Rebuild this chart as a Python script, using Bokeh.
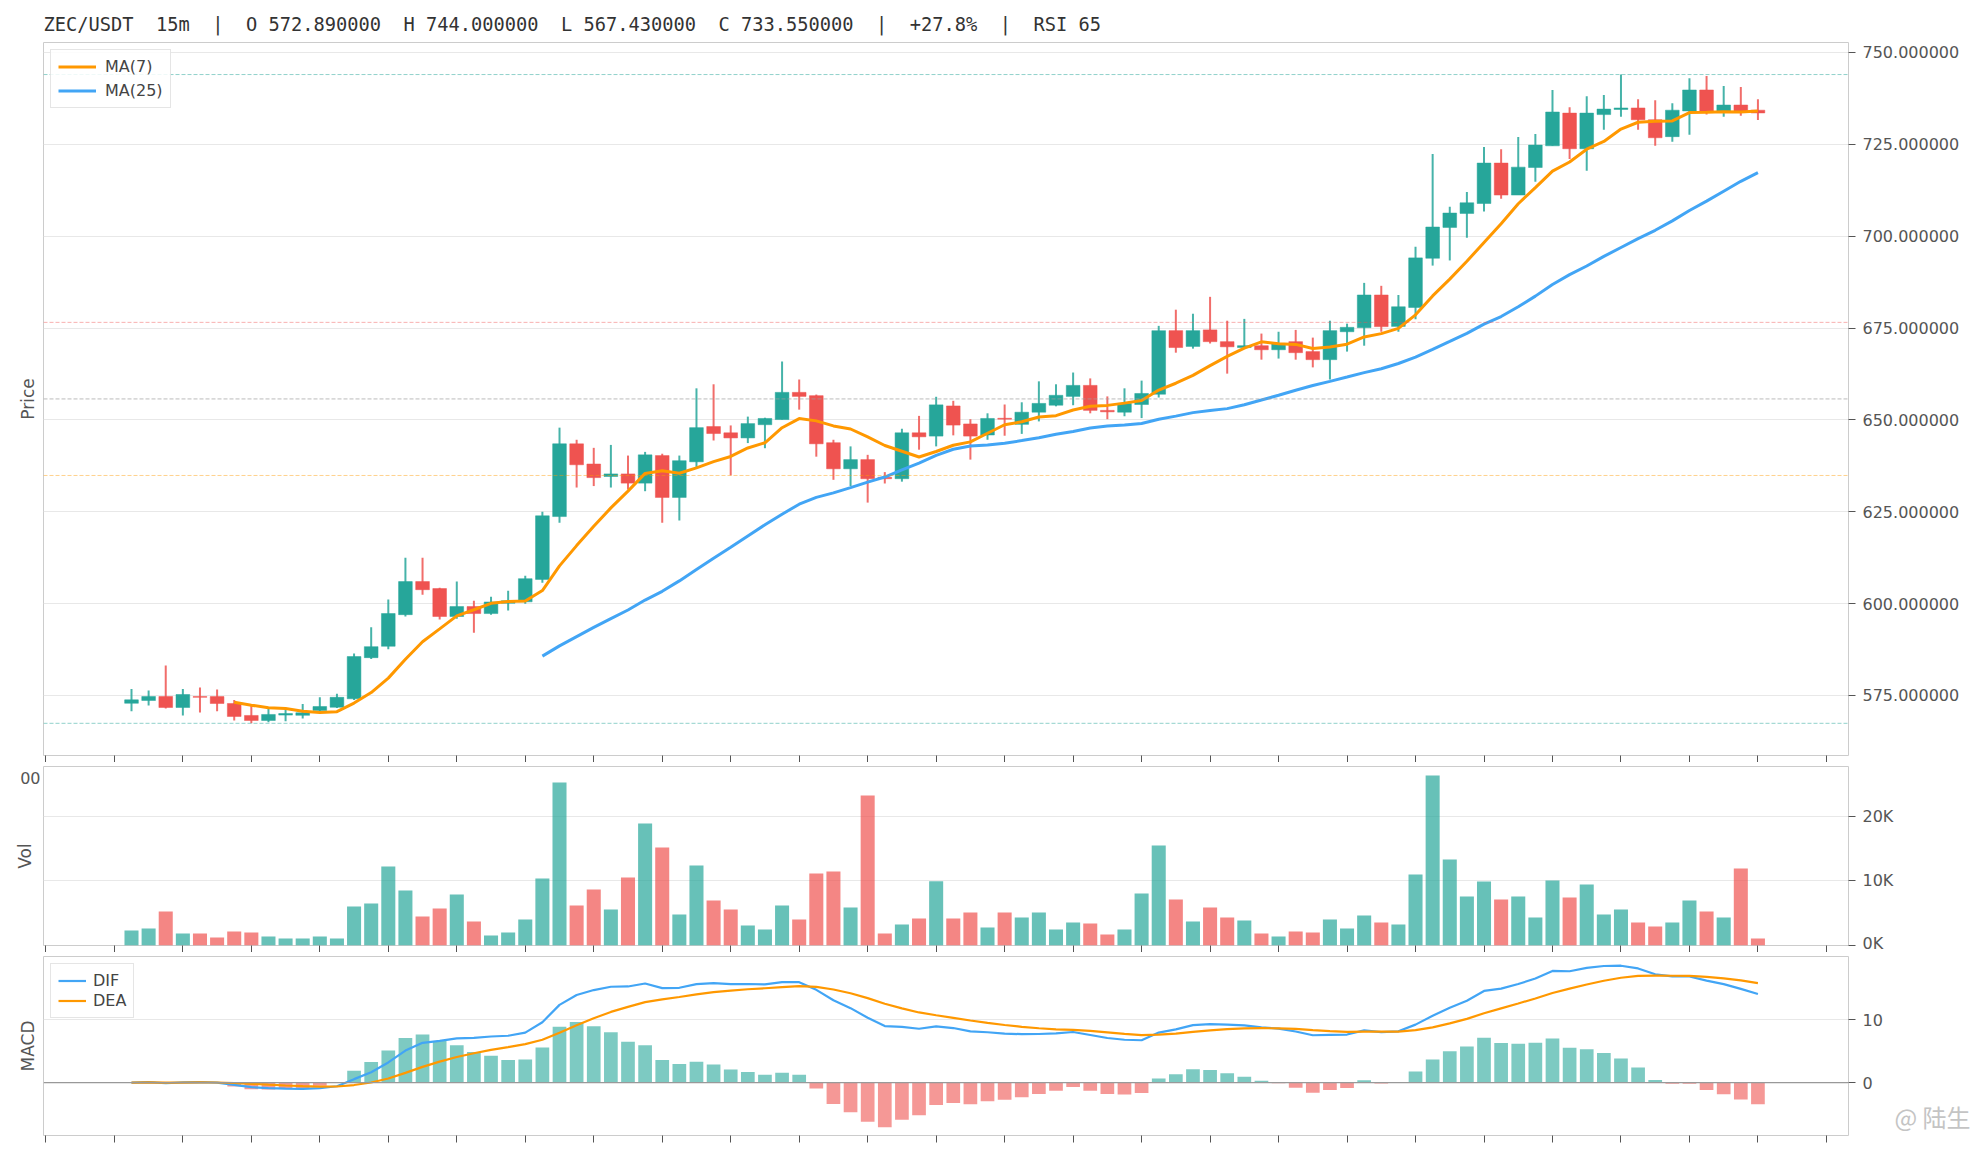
import numpy as np
import pandas as pd
from bokeh.plotting import figure
from bokeh.layouts import column
from bokeh.models import (ColumnDataSource, Range1d, LinearAxis, FixedTicker,
                          PrintfTickFormatter, Span)
from bokeh.embed import file_html
from bokeh.resources import INLINE

# ---------------- data ----------------
title_text = ("ZEC/USDT\u00a0 15m\u00a0 |\u00a0 O 572.890000\u00a0 H 744.000000\u00a0 "
              "L 567.430000\u00a0 C 733.550000\u00a0 |\u00a0 +27.8%\u00a0 |\u00a0 RSI 65")
watermark_text = "@ 陆生"
clipped_time_label = "00"

opens = [572.89, 573.64, 574.73, 571.74, 574.7, 574.7, 572.83, 569.57, 568.2, 569.66,
         569.6, 570.9, 571.8, 574.1, 585.3, 588.4, 597.0, 606.0, 604.1, 596.5,
         599.2, 597.3, 600.1, 600.5, 606.6,
         623.7, 643.5, 638.0, 634.6, 635.3, 632.8, 640.3, 628.9, 638.6, 648.2,
         646.5, 645.1, 648.7, 650.1, 657.5, 656.6, 643.8, 636.7, 639.2, 634.4,
         634.0, 646.5, 645.6, 653.8, 648.9,
         645.9, 650.45, 648.8, 652.1, 654.0, 656.4, 659.4, 652.6, 652.1, 654.2,
         657.0, 674.3, 670.0, 674.5, 671.3, 669.7, 670.2, 669.1, 671.3, 668.6,
         666.4, 674.0, 675.1, 684.0, 675.45,
         680.6, 694.0, 702.4, 706.2, 708.9, 719.9, 711.2, 718.7, 724.6, 733.5,
         723.8, 733.1, 734.5, 734.9, 731.7, 727.1, 734.1, 739.8, 734.1, 735.7, 734.3]

closes = [573.82, 574.73, 571.74, 575.27, 574.5, 572.83, 569.3, 568.2, 569.84, 570.1,
          570.3, 572.0, 574.5, 585.6, 588.3, 597.3, 606.0, 603.8, 596.5, 599.2,
          597.3, 600.45, 600.8, 606.8, 623.9,
          643.5, 637.8, 634.3, 635.3, 632.8, 640.5, 628.9, 638.9, 647.9, 646.3,
          645.1, 649.0, 650.4, 657.5, 656.4, 643.5, 636.7, 639.2, 634.0, 634.0,
          646.5, 645.4, 654.1, 648.6, 645.6,
          650.4, 650.2, 652.1, 654.5, 656.7, 659.4, 652.6, 652.2, 654.5, 657.2,
          674.3, 669.7, 674.3, 671.3, 669.9, 670.2, 669.1, 670.8, 668.3, 666.4,
          674.3, 675.2, 684.0, 675.4, 680.8,
          694.1, 702.5, 706.3, 709.1, 719.9, 711.2, 718.8, 724.8, 733.8, 723.8,
          733.5, 734.6, 734.9, 731.7, 726.8, 734.3, 739.8, 734.1, 735.7, 734.1, 733.55]

highs = [576.8, 576.36, 583.15, 576.8, 577.2, 576.6, 573.8, 572.7, 571.4, 571.6,
         572.7, 574.5, 575.5, 586.4, 593.6, 601.1, 612.5, 612.5, 604.3, 606.0,
         600.8, 601.9, 603.5, 607.6, 625.0,
         647.9, 644.6, 642.4, 643.2, 640.3, 641.3, 640.8, 640.3, 658.6, 659.7,
         648.5, 650.9, 650.6, 665.9, 661.0, 656.9, 644.6, 642.8, 640.5, 635.8,
         647.6, 651.1, 656.3, 655.2, 650.2,
         651.8, 654.2, 654.8, 660.5, 659.7, 662.9, 661.3, 656.4, 658.6, 660.7,
         675.6, 680.0, 678.9, 683.5, 677.0, 677.5, 673.5, 674.0, 674.5, 672.4,
         677.0, 676.2, 687.3, 686.5, 684.0,
         697.1, 722.4, 708.0, 712.0, 724.3, 723.7, 727.0, 727.8, 739.8, 735.1,
         738.1, 738.4, 744.0, 737.3, 737.0, 736.2, 743.0, 743.6, 740.9, 740.6, 737.3]

lows = [570.7, 572.28, 571.47, 569.57, 570.4, 570.7, 568.2, 567.43, 567.75, 568.0,
        568.75, 570.6, 571.6, 573.8, 584.9, 587.6, 596.5, 602.4, 595.7, 595.9,
        592.1, 597.0, 598.1, 600.0, 605.7,
        622.0, 631.6, 632.0, 631.6, 631.1, 630.6, 622.0, 622.6, 636.7, 644.4,
        634.9, 643.7, 642.3, 650.1, 652.8, 640.0, 633.7, 632.0, 627.5, 632.7,
        633.2, 641.9, 642.8, 645.8, 639.2,
        644.6, 645.7, 646.2, 649.6, 653.7, 654.0, 651.8, 650.2, 651.0, 650.5,
        656.1, 668.3, 669.4, 670.8, 662.6, 669.7, 666.4, 666.7, 666.4, 664.3,
        661.0, 668.6, 670.2, 674.0, 674.0,
        677.4, 692.0, 693.4, 699.6, 706.7, 710.2, 711.2, 714.8, 724.6, 721.0,
        717.8, 729.0, 732.5, 729.0, 724.6, 725.7, 727.6, 733.1, 732.5, 732.8, 731.6]

volumes_k = [2.33, 2.64, 5.27, 1.86, 1.86, 1.24, 2.17, 2.02, 1.40, 1.09,
             1.09, 1.40, 1.09, 6.05, 6.51, 12.25, 8.53, 4.50, 5.74, 7.91,
             3.72, 1.55, 2.02, 4.03, 10.39,
             25.27, 6.20, 8.68, 5.58, 10.54, 18.91, 15.19, 4.81, 12.40, 6.98,
             5.58, 3.10, 2.48, 6.20, 4.03, 11.16, 11.47, 5.89, 23.26, 1.86,
             3.26, 4.19, 9.97, 4.19, 5.12,
             2.79, 5.12, 4.34, 5.12, 2.48, 3.57, 3.41, 1.71, 2.48, 8.06,
             15.50, 7.13, 3.72, 5.89, 4.34, 3.88, 1.86, 1.40, 2.17, 2.02,
             4.03, 2.64, 4.65, 3.57, 3.26,
             11.01, 26.36, 13.33, 7.60, 9.92, 7.13, 7.60, 4.34, 10.08, 7.44,
             9.46, 4.81, 5.58, 3.57, 2.95, 3.57, 6.98, 5.27, 4.34, 11.94, 1.09]

fib_ratios = [0.0, 0.382, 0.5, 0.618, 1.0]
price_ticks = [575, 600, 625, 650, 675, 700, 725, 750]
vol_ticks = [0, 10, 20]
macd_ticks = [0, 10]
hour_ticks = list(range(-5, 101, 4))

# ---------------- derived indicators ----------------
UP, DOWN = "#26a69a", "#ef5350"
ORANGE, BLUE = "#ff9800", "#42a5f5"
n = len(opens)
idx = list(range(n))
cs = pd.Series(closes)
ma7 = cs.rolling(7).mean()
ma25 = cs.rolling(25).mean()
ema12 = cs.ewm(span=12, adjust=False).mean()
ema26 = cs.ewm(span=26, adjust=False).mean()
dif = ema12 - ema26
dea = dif.ewm(span=9, adjust=False).mean()
hist = 2 * (dif - dea)

colors = [UP if c >= o else DOWN for o, c in zip(opens, closes)]
src = ColumnDataSource(dict(
    x=idx, o=opens, c=closes, h=highs, l=lows,
    top=[max(o, c) for o, c in zip(opens, closes)],
    bot=[min(o, c) for o, c in zip(opens, closes)],
    vol=volumes_k, color=colors,
    ma7=ma7.tolist(), ma25=ma25.tolist(),
    dif=dif.tolist(), dea=dea.tolist(), hist=hist.tolist(),
    hcolor=[UP if v >= 0 else DOWN for v in hist],
))

hi, lo = max(highs), min(lows)
fib_colors = [UP, DOWN, "#9e9e9e", ORANGE, UP]
fib_alpha = [0.5, 0.45, 0.7, 0.45, 0.5]

FONT = "DejaVu Sans"
TICK_COLOR = "#555555"
GRID = "#e8e8e8"
LEFT, RIGHT = 43, 127
xr = Range1d(-5.14, 100.29)


def style(p, label, ticks, fmt, extra_left=None):
    p.outline_line_color = "#cccccc"
    p.background_fill_color = "white"
    p.xgrid.visible = False
    p.ygrid.grid_line_color = GRID
    p.ygrid.ticker = FixedTicker(ticks=ticks)
    for ax in p.xaxis:
        # hourly tick marks only, no tick labels
        ax.ticker = FixedTicker(ticks=[], minor_ticks=hour_ticks)
        ax.major_label_standoff = 0
        ax.major_tick_line_color = None
        ax.minor_tick_out = 7
        ax.minor_tick_in = 0
        ax.minor_tick_line_color = TICK_COLOR
        ax.axis_line_color = None
    for ax in p.yaxis:
        ax.ticker = FixedTicker(ticks=ticks)
        ax.formatter = PrintfTickFormatter(format=fmt)
        ax.major_label_text_font = FONT
        ax.major_label_text_font_size = "16px"
        ax.major_label_text_color = TICK_COLOR
        ax.major_tick_out = 7
        ax.major_tick_in = 0
        ax.major_label_standoff = 7
        ax.major_tick_line_color = TICK_COLOR
        ax.minor_tick_line_color = None
        ax.axis_line_color = None
    if extra_left is None:
        la = LinearAxis(axis_label=label, ticker=FixedTicker(ticks=[]),
                        axis_label_standoff=6)
    else:
        # a clipped time label peeking out at the left of this panel
        pos, txt = extra_left
        la = LinearAxis(axis_label=label, ticker=FixedTicker(ticks=[pos]),
                        major_label_overrides={pos: txt},
                        major_label_standoff=3, major_tick_out=0,
                        major_label_text_font=FONT,
                        major_label_text_font_size="16px",
                        major_label_text_color=TICK_COLOR,
                        axis_label_standoff=-18)
    la.axis_line_color = None
    la.major_tick_line_color = None
    la.minor_tick_line_color = None
    la.axis_label_text_font = FONT
    la.axis_label_text_font_size = "17px"
    la.axis_label_text_font_style = "normal"
    la.axis_label_text_color = TICK_COLOR
    p.add_layout(la, "left")


def legend_style(p, glyph_w, standoff, spacing):
    lg = p.legend[0]
    lg.location = "top_left"
    lg.margin = 7
    lg.padding = 7
    lg.spacing = spacing
    lg.glyph_width = glyph_w
    lg.glyph_height = 17
    lg.label_standoff = standoff
    lg.label_height = 19
    lg.label_text_font = FONT
    lg.label_text_font_size = "16px"
    lg.label_text_color = "#444444"
    lg.border_line_color = "#cccccc"
    lg.background_fill_alpha = 0.85


# ---------------- price panel ----------------
p1 = figure(frame_width=1805, frame_height=713, x_range=xr,
            y_range=Range1d(558.67, 752.72), y_axis_location="right",
            toolbar_location=None, output_backend="svg",
            min_border_left=LEFT, min_border_right=RIGHT, min_border_top=42,
            min_border_bottom=6, title=title_text)
p1.title.text_font = "DejaVu Sans Mono"
p1.title.text_font_size = "18.7px"
p1.title.text_font_style = "normal"
p1.title.text_color = "#333333"
p1.title.align = "left"
p1.title.standoff = 15
style(p1, "Price", price_ticks, "%.6f")

for r, col, a in zip(fib_ratios, fib_colors, fib_alpha):
    p1.add_layout(Span(location=hi - r * (hi - lo), dimension="width",
                       line_color=col, line_alpha=a, line_width=1,
                       line_dash="4 2"))

p1.segment(x0="x", y0="l", x1="x", y1="h", source=src, line_color="color",
           line_width=2, line_alpha=0.85)
p1.vbar(x="x", bottom="bot", top="top", width=0.8, source=src,
        fill_color="color", line_color="color", line_width=0.5)
p1.line("x", "ma7", source=src, line_color=ORANGE, line_width=3,
        legend_label="MA(7)")
p1.line("x", "ma25", source=src, line_color=BLUE, line_width=3,
        legend_label="MA(25)")
legend_style(p1, 38, 9, 5)

# ---------------- volume panel ----------------
p2 = figure(frame_width=1805, frame_height=179, x_range=xr,
            y_range=Range1d(0, 27.75), y_axis_location="right",
            toolbar_location=None, output_backend="svg",
            min_border_left=LEFT, min_border_right=RIGHT, min_border_top=4,
            min_border_bottom=6)
style(p2, "Vol", vol_ticks, "%dK", extra_left=(26, clipped_time_label))
p2.vbar(x="x", top="vol", bottom=0, width=0.82, source=src,
        fill_color="color", fill_alpha=0.7, line_color=None)

# ---------------- MACD panel ----------------
p3 = figure(frame_width=1805, frame_height=179, x_range=xr,
            y_range=Range1d(-8.4, 20.0), y_axis_location="right",
            toolbar_location=None, output_backend="svg",
            min_border_left=LEFT, min_border_right=RIGHT, min_border_top=4,
            min_border_bottom=8)
style(p3, "MACD", macd_ticks, "%d")
p3.vbar(x="x", top="hist", bottom=0, width=0.8, source=src,
        fill_color="hcolor", fill_alpha=0.6, line_color=None)
p3.add_layout(Span(location=0, dimension="width", line_color="#999999",
                   line_width=1.2))
p3.line("x", "dif", source=src, line_color=BLUE, line_width=2.2,
        legend_label="DIF")
p3.line("x", "dea", source=src, line_color=ORANGE, line_width=2.2,
        legend_label="DEA")
legend_style(p3, 28, 7, 1)

# watermark, drawn as an extra right-hand label column next to the MACD axis
wm = LinearAxis(ticker=FixedTicker(ticks=[-8.4]),
                major_label_overrides={-8.4: watermark_text},
                major_label_standoff=9, major_tick_out=0,
                major_tick_line_color=None, minor_tick_line_color=None,
                axis_line_color=None,
                major_label_text_font="Noto Sans CJK SC",
                major_label_text_font_size="24px",
                major_label_text_color="#c4c4c4")
p3.add_layout(wm, "right")

layout = column(p1, p2, p3, spacing=0)
open("out.html", "w").write(file_html(layout, INLINE))
